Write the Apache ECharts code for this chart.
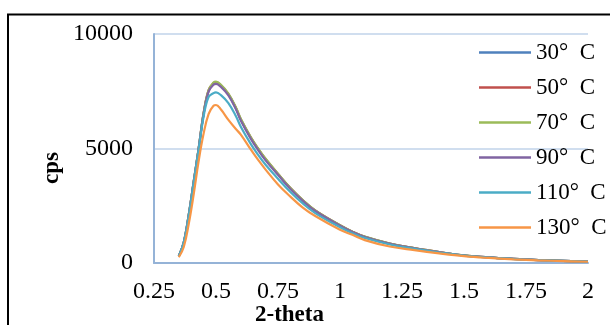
<!DOCTYPE html>
<html>
<head>
<meta charset="utf-8">
<script src="https://cdn.jsdelivr.net/npm/echarts@6/dist/echarts.min.js"></script>
<style>
html,body{margin:0;padding:0;background:#fff;}
#c{width:610px;height:325px;}
</style>
</head>
<body>
<div id="c"></div>
<script>
// ---- data ----
var twoTheta = [0.35,0.37,0.39,0.41,0.43,0.45,0.47,0.49,0.5,0.52,0.55,0.58,0.6,0.64,0.67,0.7,0.75,0.8,0.85,0.9,1.0,1.05,1.1,1.2,1.3,1.4,1.5,1.6,1.7,1.8,1.9,2.0];
var seriesNames = ["30°  C","50°  C","70°  C","90°  C","110°  C","130°  C"];
var c30  = [300,900,2100,3540,4990,6520,7510,7840,7880,7740,7360,6760,6260,5470,4970,4520,3880,3260,2730,2290,1640,1360,1140,845,645,475,328,248,178,128,94,60];
var c50  = [300,900,2100,3550,4995,6540,7540,7860,7900,7760,7380,6780,6280,5490,4990,4540,3890,3270,2740,2295,1645,1365,1145,848,648,478,329,249,179,129,94,60];
var c70  = [300,900,2100,3550,5000,6550,7550,7880,7920,7780,7400,6800,6300,5500,5000,4550,3900,3280,2750,2300,1650,1370,1150,850,650,480,330,250,180,130,95,60];
var c90  = [300,900,2080,3530,4980,6500,7480,7790,7820,7690,7320,6720,6220,5430,4930,4480,3850,3230,2710,2270,1630,1350,1135,840,645,475,328,248,178,128,94,60];
var c110 = [300,890,2060,3500,4950,6400,7250,7420,7450,7330,6980,6420,5950,5200,4720,4290,3680,3100,2600,2180,1560,1300,1090,810,620,460,318,240,173,125,92,58];
var c130 = [250,700,1700,3000,4450,5650,6500,6870,6900,6700,6250,5850,5610,4960,4500,4080,3430,2900,2420,2050,1450,1230,1000,720,560,420,300,220,160,115,85,55];
var yTicks = [0,5000,10000];
var xTicks = [0.25,0.5,0.75,1,1.25,1.5,1.75,2];
var xTitle = "2-theta";
var yTitle = "cps";

var colors = ["#4F81BD","#C0504D","#9BBB59","#8064A2","#4BACC6","#F79646"];
var allData = [c30,c50,c70,c90,c110,c130];
var font = "'Liberation Serif','Times New Roman',serif";

function pairs(ys){ var out=[]; for(var i=0;i<twoTheta.length;i++){ out.push([twoTheta[i], ys[i]]); } return out; }

var series = allData.map(function(d,i){
  return {
    name: seriesNames[i], type:'line', data: pairs(d), symbol:'none', smooth:0.4,
    lineStyle:{width:2.2, color:colors[i]}, itemStyle:{color:colors[i]},
    animation:false, clip:true
  };
});

var legendData = seriesNames.map(function(n,i){
  return {name:n, icon:'rect', itemStyle:{color:colors[i]}};
});

var chart = echarts.init(document.getElementById('c'), null, {renderer:'canvas'});
chart.setOption({
  animation:false,
  backgroundColor:'#fff',
  grid:{left:154, right:22, top:34, bottom:62, containLabel:false},
  xAxis:{
    type:'value', min:xTicks[0], max:xTicks[xTicks.length-1], interval:0.25,
    axisLine:{show:true, onZero:false, lineStyle:{color:'#95B3D7', width:2}},
    axisTick:{show:false},
    splitLine:{show:false},
    axisLabel:{color:'#000', fontFamily:font, fontSize:24, margin:17,
      formatter:function(v){ return String(+v.toFixed(2)); }}
  },
  yAxis:{
    type:'value', min:yTicks[0], max:yTicks[yTicks.length-1], interval:5000,
    axisLine:{show:true, lineStyle:{color:'#95B3D7', width:2}},
    axisTick:{show:false},
    splitLine:{show:true, lineStyle:{color:'#D0DEEF', width:2}},
    axisLabel:{color:'#000', fontFamily:font, fontSize:24, margin:21,
      formatter:function(v){ return String(v); }}
  },
  legend:{
    orient:'vertical', left:479, top:41, padding:0, itemWidth:52, itemHeight:2.5, itemGap:12,
    textStyle:{color:'#000', fontFamily:font, fontSize:23, lineHeight:22},
    data: legendData
  },
  graphic:[
    {type:'rect', silent:true, z:100, shape:{x:8, y:14.5, width:700, height:400},
     style:{fill:null, stroke:'#000', lineWidth:2}},
    {type:'text', silent:true, left:41, top:152, rotation:Math.PI/2,
     style:{text:yTitle, font:"bold 23px "+font, fill:'#000'}},
    {type:'text', silent:true, left:255, top:304,
     style:{text:xTitle, font:"bold 23px "+font, fill:'#000'}}
  ],
  series: series
});
</script>
</body>
</html>
